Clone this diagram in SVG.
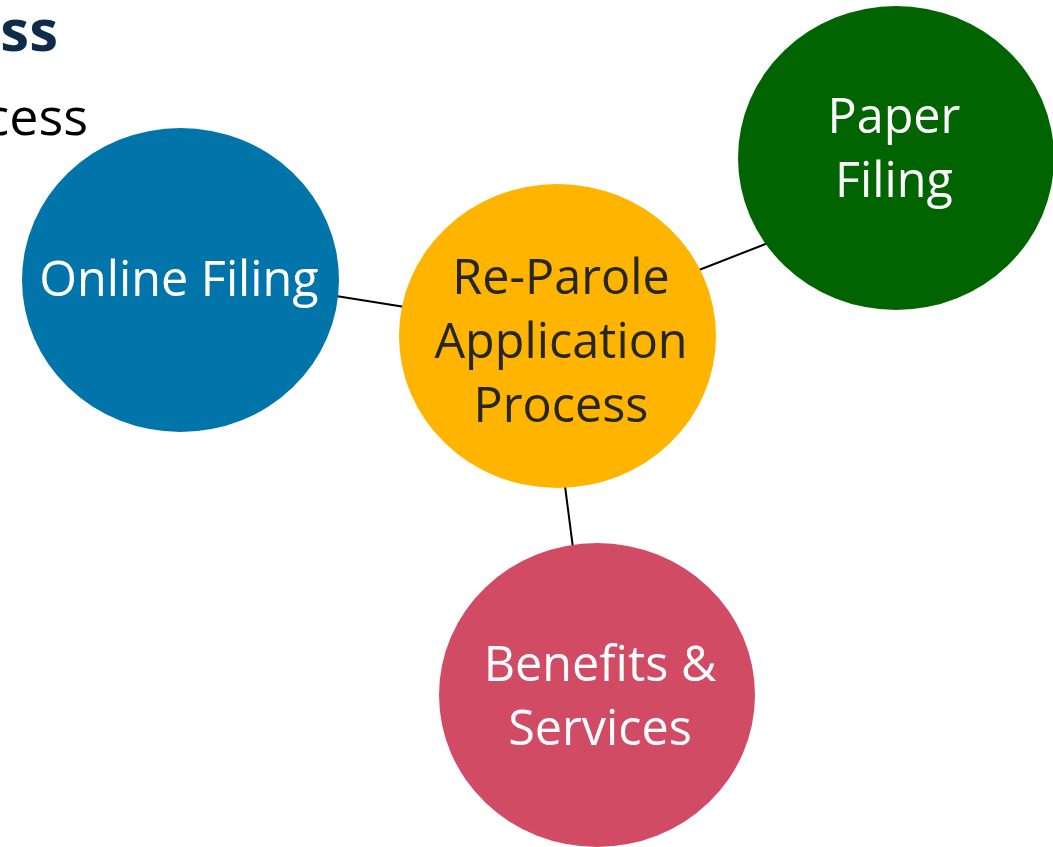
<svg xmlns="http://www.w3.org/2000/svg" width="1053" height="847" viewBox="0 0 1053 847">
<style>
.lbl{font-family:"Open Sans","Noto Sans","Liberation Sans",sans-serif;font-size:48.5px;text-anchor:middle}
.w{fill:#ffffff}
.d{fill:#262626}
.conn line{stroke:#000;stroke-width:2}
</style>
<rect width="1053" height="847" fill="#ffffff"/>
<text x="58" y="51" font-family="'Open Sans','Noto Sans',sans-serif" font-weight="bold" font-size="58" fill="#0E2C4A" text-anchor="end">ss</text>
<text x="88" y="135" font-family="'Open Sans','Noto Sans',sans-serif" font-size="52" fill="#000" text-anchor="end">cess</text>
<g class="conn" id="connectors">
<line x1="336" y1="296" x2="405" y2="307"/>
<line x1="699" y1="270" x2="768" y2="243"/>
<line x1="565" y1="486" x2="573" y2="548"/>
</g>
<g id="online">
<ellipse cx="180.5" cy="280" rx="158.5" ry="152" fill="#0175AA"/>
<text class="lbl w" x="179" y="296">Online Filing</text>
</g>
<g id="center">
<ellipse cx="557.5" cy="336" rx="158.5" ry="152" fill="#FFB400"/>
<text class="lbl d" x="561" y="294">Re-Parole</text>
<text class="lbl d" x="561" y="358">Application</text>
<text class="lbl d" x="561" y="422">Process</text>
</g>
<g id="paper">
<ellipse cx="896" cy="158" rx="158" ry="152" fill="#006500"/>
<text class="lbl w" x="894" y="133">Paper</text>
<text class="lbl w" x="894" y="197">Filing</text>
</g>
<g id="benefits">
<ellipse cx="597" cy="695" rx="158" ry="152" fill="#D24B65"/>
<text class="lbl w" x="600" y="681">Benefits &amp;</text>
<text class="lbl w" x="600" y="745">Services</text>
</g>
</svg>
